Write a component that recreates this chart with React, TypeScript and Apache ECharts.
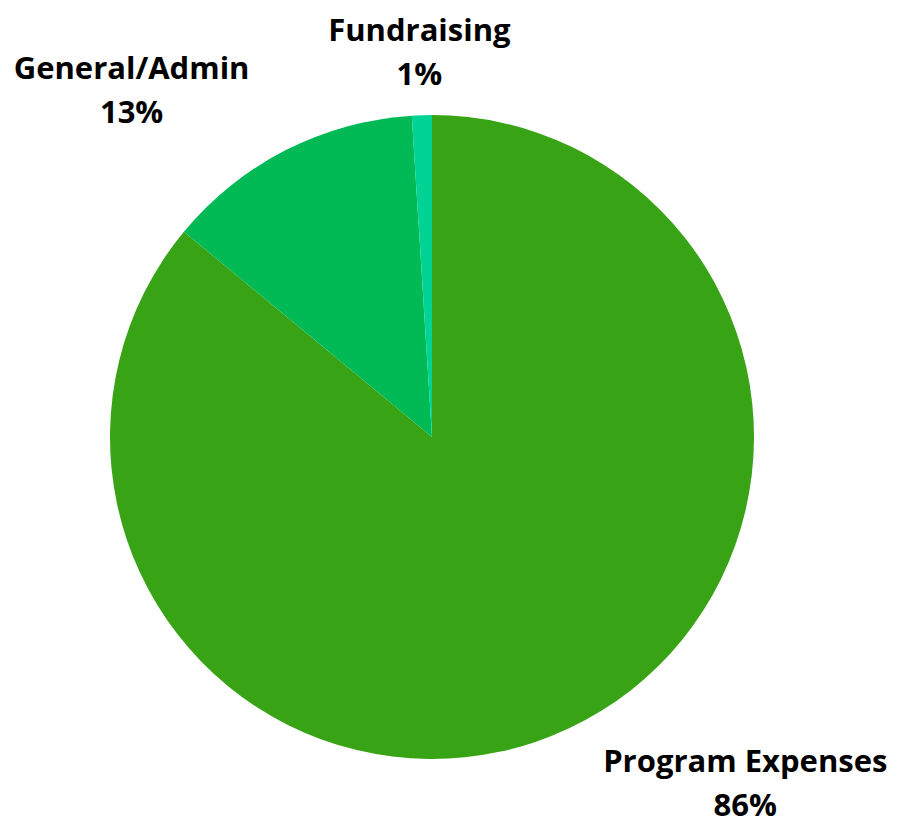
import React, { useEffect, useRef } from "react";
import * as echarts from "echarts";

const categories = ["Program Expenses", "General/Admin", "Fundraising"];
const values = [86, 13, 1];
const colors = ["#38a415", "#01ba55", "#00d394"];

export default function App() {
  const ref = useRef<HTMLDivElement>(null);

  useEffect(() => {
    document.body.style.margin = "0";
    const el = ref.current!;
    const chart = echarts.init(el, null, { renderer: "svg" });

    const cx = 432;
    const cy = 437;
    const r = 322;
    const rx = 402;
    const ryTop = 349;
    const ryBottom = 340;
    const total = values.reduce((a, b) => a + b, 0);
    const mids: number[] = [];
    let acc = 0;
    values.forEach((v) => {
      mids.push(((acc + v / 2) / total) * Math.PI * 2);
      acc += v;
    });
    const s = (v: number) => Math.sign(v) * Math.min(1, Math.max(0, (Math.abs(v) - 0.1) * 5));
    const font = { fontFamily: "Open Sans", fontWeight: "bold" as const, fontSize: 31, color: "#000" };

    chart.setOption({
      animation: false,
      series: [
        {
          type: "pie",
          center: [cx, cy],
          radius: r,
          startAngle: 90,
          clockwise: true,
          avoidLabelOverlap: false,
          data: categories.map((name, i) => ({
            name,
            value: values[i],
            itemStyle: { color: colors[i] },
          })),
          label: {
            show: true,
            position: "outside",
            formatter: (p: any) => `{a|${p.name}}\n{b|${p.value}%}`,
            ...font,
            align: "center",
            rich: {
              a: { ...font, lineHeight: 64, align: "center" },
              b: { ...font, lineHeight: 24, align: "center" },
            },
          },
          labelLine: { show: false },
          labelLayout: (params: any) => {
            const th = mids[params.dataIndex];
            const dx = Math.sin(th);
            const dy = -Math.cos(th);
            const w = params.labelRect.width;
            const h = params.labelRect.height;
            const px = cx + rx * dx;
            const py = cy + (dy < 0 ? ryTop : ryBottom) * dy;
            return {
              x: px + (w / 2) * s(dx),
              y: py + (h / 2) * Math.sign(dy) - 10,
              align: "center",
              verticalAlign: "middle",
            };
          },
          emphasis: { disabled: true },
        },
      ],
    });

    return () => chart.dispose();
  }, []);

  return <div ref={ref} style={{ width: 898, height: 827 }} />;
}
